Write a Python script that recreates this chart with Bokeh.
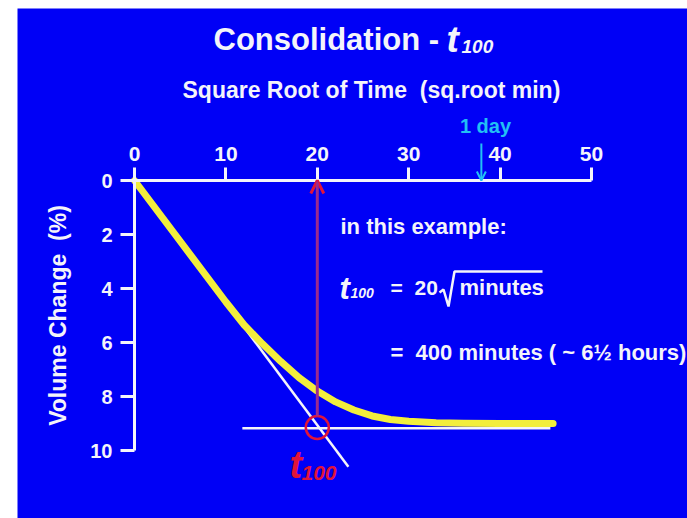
from bokeh.plotting import figure
from bokeh.models import Range1d, FixedTicker, Label, Arrow, OpenHead, Spacer
from bokeh.layouts import row, column
from bokeh.embed import file_html
from bokeh.resources import INLINE

# ---- data ----
sqrt_time = [0, 5, 10, 12, 14, 16, 18, 20, 22, 24, 26, 28, 30, 33, 36, 40, 45.8]
vol_change = [0, 2.25, 4.5, 5.35, 6.05, 6.7, 7.3, 7.8, 8.2, 8.5, 8.72, 8.85, 8.92, 8.97, 8.99, 9.0, 9.0]
x_ticks = [0, 10, 20, 30, 40, 50]
y_ticks = [0, 2, 4, 6, 8, 10]
tangent_x = [0, 23.4]
tangent_y = [0, 10.6]
final_x = [11.8, 45.5]
final_y = [9.18, 9.18]
t100_root = [20]
t100_vol = [9.15]
one_day_root = 37.95

BLUE = "#0000f6"
WHITE = "#f4f4fa"
YELLOW = "#f2ee3c"
RED = "#e0143a"
PURPLE = "#9c2a8c"
CYAN = "#22c0f4"
FONT = "Liberation Sans"
NB = "\u00a0"

# page pixel -> data helpers (figure canvas starts at page x=17, y=8)
X0, SX = 134.0, 9.14
Y0, SY = 180.0, 27.0
def dx(px):
    return (px - X0) / SX
def dy(py):
    return (py - Y0) / SY

W, H = 670, 510
p = figure(width=W, height=H, output_backend="svg", toolbar_location=None,
           x_range=Range1d(dx(17), dx(17 + W)), y_range=Range1d(dy(8 + H), dy(8)),
           x_axis_location="above", min_border=0,
           background_fill_color=BLUE, border_fill_color=BLUE, outline_line_color=None)
p.grid.visible = False

xa = p.xaxis[0]
xa.fixed_location = 0
xa.bounds = (0, 50)
xa.ticker = FixedTicker(ticks=x_ticks)
xa.axis_line_color = WHITE
xa.axis_line_width = 3
xa.major_tick_line_color = WHITE
xa.major_tick_line_width = 3
xa.major_tick_out = 13
xa.major_tick_in = 0
xa.minor_tick_line_color = None
xa.major_label_standoff = 7
xa.major_label_text_color = WHITE
xa.major_label_text_font = FONT
xa.major_label_text_font_style = "bold"
xa.major_label_text_font_size = "21px"

ya = p.yaxis[0]
ya.fixed_location = 0
ya.bounds = (0, 10)
ya.ticker = FixedTicker(ticks=y_ticks)
ya.axis_line_color = WHITE
ya.axis_line_width = 3
ya.major_tick_line_color = WHITE
ya.major_tick_line_width = 3
ya.major_tick_out = 14
ya.major_tick_in = 0
ya.minor_tick_line_color = None
ya.major_label_standoff = 8
ya.major_label_text_color = WHITE
ya.major_label_text_font = FONT
ya.major_label_text_font_style = "bold"
ya.major_label_text_font_size = "20px"
ya.axis_label = "Volume Change" + NB + NB + "(%)"
ya.axis_label_text_color = WHITE
ya.axis_label_text_font = FONT
ya.axis_label_text_font_style = "bold"
ya.axis_label_text_font_size = "23px"
ya.axis_label_standoff = 16

# construction lines
p.line(tangent_x, tangent_y, line_color=WHITE, line_width=2.5)
p.line(final_x, final_y, line_color=WHITE, line_width=2.5)

# consolidation curve
p.line(sqrt_time, vol_change, line_color=YELLOW, line_width=7, line_cap="round", line_join="round")

# t100 arrow + circle
p.add_layout(Arrow(x_start=t100_root[0], y_start=t100_vol[0] - 0.42, x_end=t100_root[0], y_end=0,
                   line_color=PURPLE, line_width=3,
                   end=OpenHead(size=13, line_color=RED, line_width=3)))
p.scatter(t100_root, t100_vol, marker="circle", size=23, fill_color=None,
          line_color=RED, line_width=2.5)

# 1 day arrow
p.add_layout(Arrow(x_start=one_day_root, y_start=dy(143), x_end=one_day_root, y_end=0,
                   line_color=CYAN, line_width=2,
                   end=OpenHead(size=9, line_color=CYAN, line_width=2)))

LBL_SHIFT = 9  # labels render slightly below their anchor

def lab(text, px, py, size, color=WHITE, style="bold", align="left", baseline="alphabetic"):
    p.add_layout(Label(x=dx(px), y=dy(py - LBL_SHIFT), text=text, text_color=color, text_font=FONT,
                       text_font_style=style, text_font_size=size, text_align=align,
                       text_baseline=baseline))

# title
lab("Consolidation -", 213, 48, "31px")
lab("t", 446, 48, "37px", style="bold italic")
lab("100", 461, 55, "19px", style="bold italic")

# x axis title
lab("Square Root of Time" + NB + NB + "(sq.root min)", 182, 98, "23px")

# 1 day
lab("1 day", 485, 134, "20px", color=CYAN, align="center")

# explanation
lab("in this example:", 340, 235, "22px")
lab("t", 339, 297, "31px", style="bold italic")
lab("100", 350, 301, "14px", style="bold italic")
lab("=", 390, 296, "21px")
lab("20", 414, 296, "21px")
p.line([dx(p_) for p_ in (439, 443, 448, 454, 542)],
       [dy(p_) for p_ in (292, 289, 306, 271, 271)], line_color=WHITE, line_width=2.5)
lab("minutes", 459, 296, "22px")
lab("=" + NB + NB + "400 minutes ( ~ 6\u00bd hours)", 390, 361, "22px")

# red t100 label
lab("t", 289, 473, "38px", color=RED, style="bold italic")
lab("100", 301, 481, "21px", color=RED, style="bold italic")

layout = column(Spacer(width=W + 17, height=8), row(Spacer(width=17, height=H), p))
open("out.html", "w").write(file_html(layout, INLINE))
